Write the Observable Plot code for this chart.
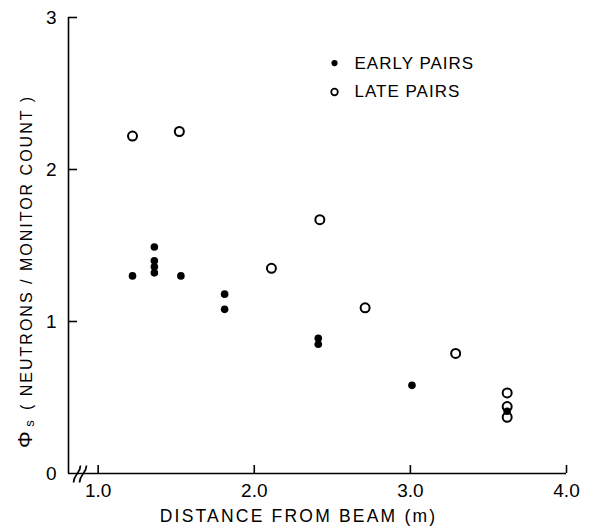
<!DOCTYPE html>
<html>
<head>
<meta charset="utf-8">
<script src="https://cdn.jsdelivr.net/npm/d3@7"></script>
<script src="https://cdn.jsdelivr.net/npm/@observablehq/plot@0.6"></script>
<style>
  html, body { margin: 0; padding: 0; background: #fff; }
  #chart svg { display: block; }
</style>
</head>
<body>
<div id="chart"></div>
<script>
// Early pairs (filled markers): distance from beam (m) and Φs
const earlyDistance = [1.22, 1.36, 1.36, 1.36, 1.36, 1.53, 1.81, 1.81, 2.41, 2.41, 3.01, 3.62];
const earlyPhi      = [1.30, 1.49, 1.40, 1.36, 1.32, 1.30, 1.18, 1.08, 0.89, 0.85, 0.58, 0.41];

// Late pairs (open markers)
const lateDistance = [1.22, 1.52, 2.11, 2.42, 2.71, 3.29, 3.62, 3.62, 3.62];
const latePhi      = [2.22, 2.25, 1.35, 1.67, 1.09, 0.79, 0.53, 0.44, 0.37];

// Axis ticks and labels
const xTicks = [1, 2, 3, 4];
const yTicks = [0, 1, 2, 3];
const xTitle = "DISTANCE FROM BEAM (m)";
const yTitle = "( NEUTRONS / MONITOR COUNT )";
const legendLabels = ["EARLY PAIRS", "LATE PAIRS"];

const early = earlyDistance.map((x, i) => ({x, y: earlyPhi[i]}));
const late = lateDistance.map((x, i) => ({x, y: latePhi[i]}));

// Layout
const W = 589, H = 531;
const mL = 68, mR = 23, mT = 17, mB = 58;
const xMin = 0.81, xMax = 4.0, yMin = 0, yMax = 3;
const pxPerX = (W - mL - mR) / (xMax - xMin);
const pxPerY = (H - mT - mB) / (yMax - yMin);
const xTickLen = 8 / pxPerY;   // inward x ticks, in y units
const yTickLen = 9 / pxPerX;   // inward y ticks, in x units

// Broken-axis mark near the origin (two small S strokes)
const breakMarks = [
  {x1: xMin + 5 / pxPerX, y1: -9 / pxPerY, x2: xMin + 12 / pxPerX, y2: 8 / pxPerY},
  {x1: xMin + 11 / pxPerX, y1: -9 / pxPerY, x2: xMin + 18 / pxPerX, y2: 8 / pxPerY}
];

// Legend placement (data units)
const legendX = 2.514, legendY0 = 2.70, legendStep = 0.19;
const legendRows = legendLabels.map((label, i) => ({label, i, x: legendX, y: legendY0 - i * legendStep}));

const font = "'Liberation Sans', Arial, Helvetica, sans-serif";

const chart = Plot.plot({
  width: W,
  height: H,
  marginLeft: mL,
  marginRight: mR,
  marginTop: mT,
  marginBottom: mB,
  x: {domain: [xMin, xMax]},
  y: {domain: [yMin, yMax]},
  style: {fontFamily: font, color: "black", background: "white"},
  marks: [
    // tick labels
    Plot.axisX(xTicks, {tickSize: 0, tickPadding: 10, tickFormat: d3.format(".1f"), fontSize: 19, label: null}),
    Plot.axisY(yTicks, {tickSize: 0, tickPadding: 12, tickFormat: d3.format("d"), fontSize: 19, label: null}),
    // axis lines
    Plot.ruleY([0], {x1: xMin, x2: xMax, stroke: "black", strokeWidth: 1.6}),
    Plot.ruleX([xMin], {y1: yMin, y2: yMax, stroke: "black", strokeWidth: 1.6}),
    // inward ticks
    Plot.ruleX(xTicks, {x: d => d, y1: 0, y2: xTickLen, stroke: "black", strokeWidth: 1.6}),
    Plot.ruleY(yTicks.filter(d => d > 0), {y: d => d, x1: xMin, x2: xMin + yTickLen, stroke: "black", strokeWidth: 1.6}),
    // axis break
    Plot.link(breakMarks, {x1: "x1", y1: "y1", x2: "x2", y2: "y2", curve: "bump-y", stroke: "black", strokeWidth: 1.7}),
    // data
    Plot.dot(early, {x: "x", y: "y", r: 3.8, fill: "black", stroke: "none"}),
    Plot.dot(late, {x: "x", y: "y", r: 4.5, fill: "none", stroke: "black", strokeWidth: 2}),
    // legend
    Plot.dot(legendRows.filter(d => d.i === 0), {x: "x", y: "y", r: 3.1, fill: "black"}),
    Plot.dot(legendRows.filter(d => d.i === 1), {x: "x", y: "y", r: 3.3, fill: "none", stroke: "black", strokeWidth: 1.7}),
    Plot.text(legendRows, {x: "x", y: "y", text: "label", textAnchor: "start", dx: 20, fontSize: 17, fill: "black"}),
    // x axis title
    Plot.text([xTitle], {frameAnchor: "bottom", textAnchor: "middle", dx: -19, dy: 48, fontSize: 17.5, fill: "black"}),
    // y axis title: Φ with subscript s, then units
    Plot.text(["Φ"], {frameAnchor: "left", textAnchor: "middle", rotate: -90, dx: -43, dy: 194, fontSize: 21, fill: "black"}),
    Plot.text(["s"], {frameAnchor: "left", textAnchor: "middle", rotate: -90, dx: -39, dy: 178, fontSize: 13, fill: "black"}),
    Plot.text([yTitle], {frameAnchor: "left", textAnchor: "middle", rotate: -90, dx: -42, dy: 7, fontSize: 16, fill: "black"})
  ]
});

// letter spacing for the titles and legend entries
const spacing = new Map([[xTitle, "2.2px"], [yTitle, "2px"], ...legendLabels.map(l => [l, "1px"])]);
d3.select(chart).selectAll("text").each(function() {
  const s = spacing.get(this.textContent);
  if (s) d3.select(this).style("letter-spacing", s);
});

document.getElementById("chart").appendChild(chart);
</script>
</body>
</html>
